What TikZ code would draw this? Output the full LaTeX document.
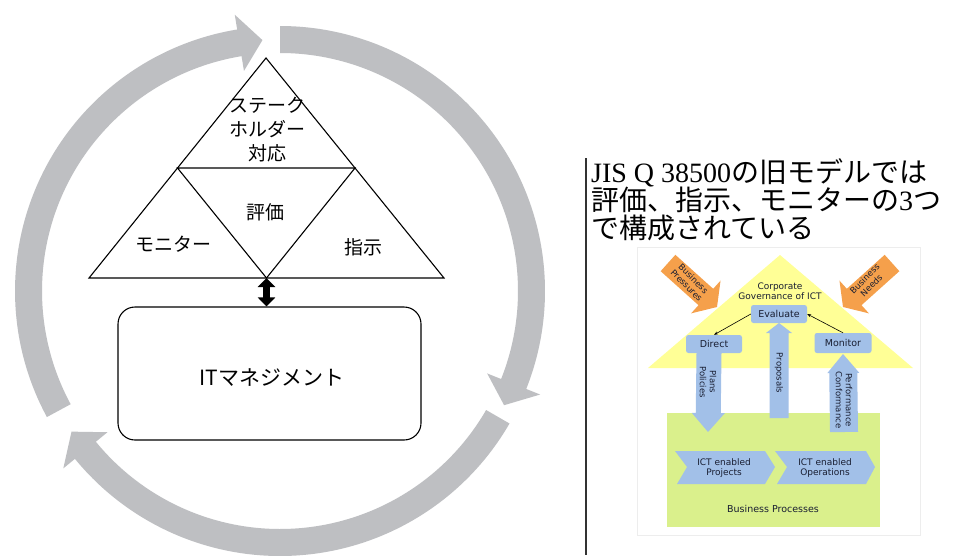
\documentclass[tikz,border=0pt]{standalone}
\usepackage{fontspec}
\usetikzlibrary{calc,arrows.meta}
\newfontfamily\jpf{Noto Sans CJK JP}
\newfontfamily\serf{Liberation Serif}
\newfontfamily\vsf{DejaVu Sans}
\definecolor{ringgray}{RGB}{190,191,194}
\definecolor{roofyellow}{RGB}{255,255,150}
\definecolor{bpgreen}{RGB}{218,240,140}
\definecolor{boxblue}{RGB}{162,192,232}
\definecolor{orangearr}{RGB}{245,160,75}
\definecolor{darktext}{RGB}{25,30,50}
\def\RRin{238}
\def\RRout{265}
\def\RRmid{251.5}
\def\RRhd{5.3}
\def\RRhe{15}
\newcommand\ringarrow[2]{%
  \fill[ringgray] ($(C)+(#1:\RRout)$) arc[start angle=#1, end angle={#2-\RRhd}, radius=\RRout]
    -- ($(C)+({#2-\RRhd}:{\RRout+\RRhe})$) -- ($(C)+(#2:\RRmid)$)
    -- ($(C)+({#2-\RRhd}:{\RRin-\RRhe})$) -- ($(C)+({#2-\RRhd}:\RRin)$)
    arc[start angle={#2-\RRhd}, end angle=#1, radius=\RRin] -- cycle;}
\newcommand\blockarrow[6]{%
  \coordinate (hb) at ($(#3)!#6pt!(#2)$);
  \fill[#1] ($(#2)!#4pt!90:(#3)$) -- ($(hb)!#4pt!90:(#3)$) -- ($(hb)!#5pt!90:(#3)$)
    -- (#3) -- ($(hb)!#5pt!-90:(#3)$) -- ($(hb)!#4pt!-90:(#3)$)
    -- ($(#2)!#4pt!-90:(#3)$) -- cycle;}
\tikzset{
  tri/.style={draw=black, line width=1.1pt, line join=miter},
  jlabel/.style={font=\jpf\fontsize{19}{24}\selectfont, inner sep=0pt, align=center},
  hdr/.style={font=\fontsize{28}{28}\selectfont, inner sep=0pt, anchor=base west},
  govbox/.style={fill=boxblue, rounded corners=2.5pt, inner sep=0pt, text=darktext,
    font=\vsf\fontsize{9.5}{11}\selectfont},
  small/.style={text=darktext, font=\vsf\fontsize{9}{10.5}\selectfont, inner sep=0pt, align=center},
  thin/.style={draw=black, line width=0.6pt, -{Stealth[length=4pt,width=3pt]}},
}
\begin{document}
\begin{tikzpicture}[x=1pt,y=-1pt]
\useasboundingbox (0,0) rectangle (960,555);
\fill[white] (0,0) rectangle (960,555);
% ---------- ring of arrows ----------
\coordinate (C) at (280,291);
\ringarrow{151.6}{266}
\ringarrow{270}{387}
\ringarrow{30}{146}
% ---------- triangle ----------
\coordinate (A) at (266,58);
\coordinate (BL) at (89,278);
\coordinate (BR) at (444,278);
\coordinate (ML) at (177.5,168);
\coordinate (MR) at (355,168);
\coordinate (BM) at (266.5,278);
\draw[tri] (BL) -- (A) -- (BR) -- cycle;
\draw[tri] (ML) -- (MR) -- (BM) -- cycle;
\node[jlabel] (stake) at (267,130) {ステーク\\ホルダー\\対応};
\node[jlabel] (hyoka) at (265,212) {評価};
\node[jlabel] (monitor) at (173,244) {モニター};
\node[jlabel] (shiji) at (363,247) {指示};
% ---------- IT management box ----------
\node[draw=black, line width=1.1pt, rounded corners=17pt, minimum width=303pt,
  minimum height=133pt, inner sep=0pt] (itbox) at (269.5,373.5) {};
\node[font=\jpf\fontsize{21}{24}\selectfont, inner sep=0pt] (ittext) at (272,378) {ITマネジメント};
\draw[line width=7pt, {Triangle[width=17pt,length=9pt]}-{Triangle[width=17pt,length=9pt]}]
  (BM) -- (BM |- itbox.north);
% ---------- right panel ----------
\coordinate (vtop) at (586,158);
\coordinate (vbot) at (586,555);
\draw[line width=1.2pt, draw=black!80] (vtop) -- (vbot);
\node[hdr] (h1) at (591,182) {{\serf JIS Q 38500}{\jpf の旧モデルでは}};
\node[hdr] (h2) at (591,210) {{\jpf 評価、指示、モニターの}{\serf 3}{\jpf つ}};
\node[hdr] (h3) at (591,238) {{\jpf で構成されている}};
% inner figure
\draw[draw=black!7, fill=white] (637,247) rectangle (920,535);
\fill[roofyellow] (780,255) -- (913,368) -- (648,368) -- cycle;
\fill[bpgreen] (667,413) rectangle (880,527);
\blockarrow{orangearr}{668,263}{717,307}{11}{22}{15}
\blockarrow{orangearr}{892,263}{843,307}{11}{22}{15}
\node[small, rotate=-45, font=\vsf\fontsize{8.5}{9.5}\selectfont] (bpress) at (690,282) {Business\\Pressures};
\node[small, rotate=45, font=\vsf\fontsize{8.5}{9.5}\selectfont] (bneeds) at (868,282) {Business\\Needs};
\node[small] (corp) at (780,291) {Corporate\\Governance of ICT};
\node[govbox, minimum width=56pt, minimum height=18pt] (eval) at (779,314) {Evaluate};
\node[govbox, minimum width=56pt, minimum height=18pt] (direct) at (714,344) {Direct};
\node[govbox, minimum width=57pt, minimum height=20pt] (mon) at (843,343) {Monitor};
\draw[thin] (eval.west) -- (direct.north);
\draw[thin] (mon.north) -- (eval.east);
\blockarrow{boxblue}{709,353}{708,432}{12.5}{16.5}{19}
\blockarrow{boxblue}{779,418}{779,323}{9.5}{13}{10}
\blockarrow{boxblue}{844,432}{843,354}{14}{16}{19}
\node[small, rotate=-90, font=\vsf\fontsize{8.5}{10}\selectfont] (plans) at (708,382) {Plans\\Policies};
\node[small, rotate=-90, font=\vsf\fontsize{8.5}{10}\selectfont] (prop) at (779,373) {Proposals};
\node[small, rotate=-90, font=\vsf\fontsize{8.5}{10}\selectfont] (perf) at (844,400) {Performance\\Conformance};
\fill[boxblue] (675,451) -- (765,451) -- (775,467) -- (765,484) -- (677,484) -- (687,467) -- cycle;
\fill[boxblue] (775,451) -- (866,451) -- (875,467) -- (866,484) -- (777,484) -- (787,467) -- cycle;
\node[small] (proj) at (724,468) {ICT enabled\\Projects};
\node[small] (oper) at (825,468) {ICT enabled\\Operations};
\node[small, font=\vsf\fontsize{9.5}{11}\selectfont] (bproc) at (773,509) {Business Processes};
\end{tikzpicture}
\end{document}
